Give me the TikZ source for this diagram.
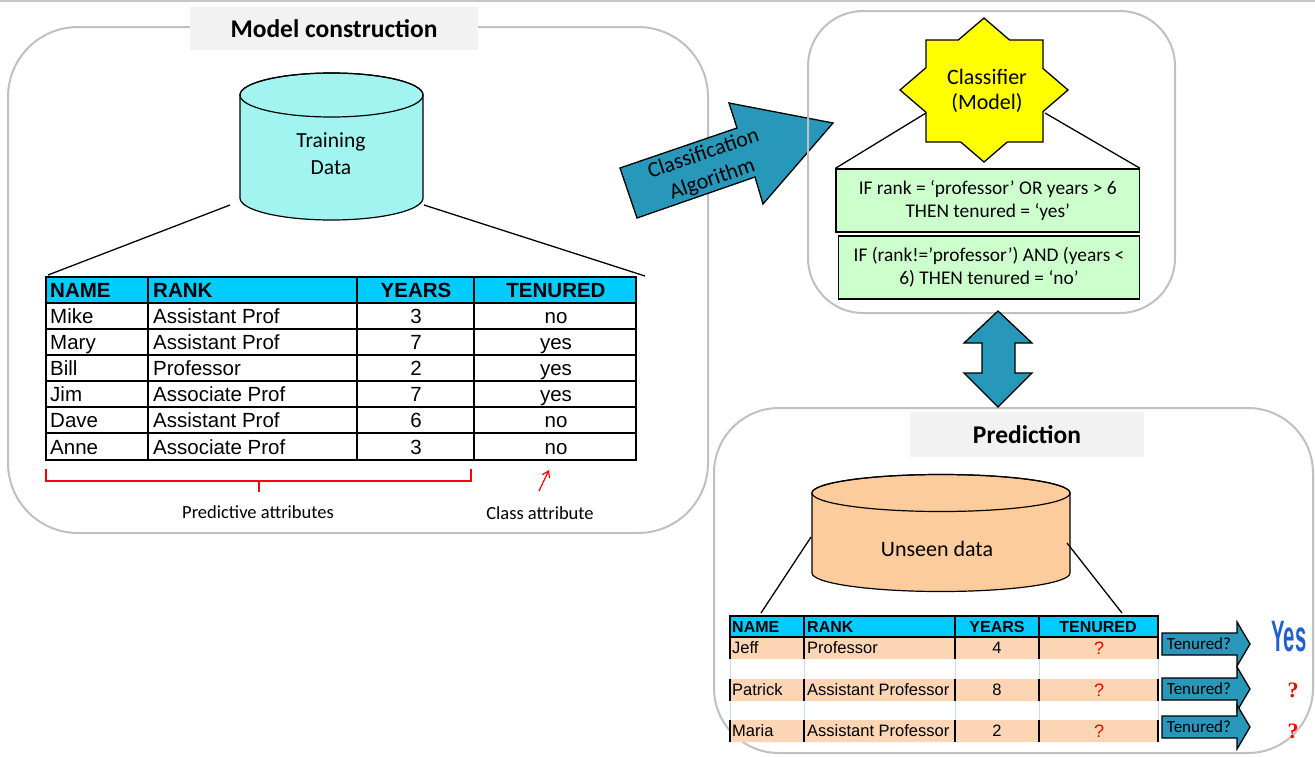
\documentclass[tikz,border=0pt]{standalone}
\usepackage{fontspec}
\usepackage{graphicx}
\setmainfont{Carlito}
\newfontfamily\tabfont{Liberation Sans}
\newfontfamily\qfont{Liberation Serif}
\usetikzlibrary{arrows.meta,positioning,calc}
\definecolor{Frame}{HTML}{C0C0C0}
\definecolor{TitleBg}{HTML}{F2F2F2}
\definecolor{Head}{HTML}{00CCFF}
\definecolor{Aqua}{HTML}{A2F4F0}
\definecolor{Peach}{HTML}{FCD5B4}
\definecolor{Apricot}{HTML}{FDCC9C}
\definecolor{Steel}{HTML}{2797BA}
\definecolor{Mint}{HTML}{CCFFCC}
\definecolor{Sun}{HTML}{FFFF00}
\definecolor{YesBlue}{HTML}{1F5FD0}
\definecolor{GridLight}{HTML}{D0D8E8}
% drum: centre x, top-ellipse y, x radius, body height, y radius, fill
\newcommand{\drum}[6]{%
  \filldraw[fill=#6, draw=black, line width=1.2]
    (#1-#3,#2) -- ++(0,#4) arc[start angle=180, end angle=0, x radius=#3, y radius=#5]
    -- ++(0,-#4) arc[start angle=0, end angle=-180, x radius=#3, y radius=#5] -- cycle;
  \draw[line width=1.2] (#1,#2) ellipse[x radius=#3, y radius=#5];
}
% ask arrow: centre y
\newcommand{\askarrow}[1]{%
  \filldraw[arrowfill] (1162,#1-11) -- (1237,#1-11) -- (1237,#1-22) -- (1250,#1)
    -- (1237,#1+22) -- (1237,#1+11) -- (1162,#1+11) -- cycle;
}

\begin{document}
\begin{tikzpicture}[x=1pt, y=-1pt,
  every node/.style={inner sep=0pt, font=\fontsize{19}{24}\selectfont},
  panel/.style={draw=Frame, line width=2, rounded corners=70},
  tbox/.style={fill=TitleBg, font=\bfseries\fontsize{25.5}{28}\selectfont},
  rbox/.style={draw, line width=1.3, fill=Mint, align=center, font=\fontsize{19.4}{23}\selectfont},
  cell/.style={font=\tabfont\fontsize{20.5}{22}\selectfont, text height=17, text depth=2},
  hcell/.style={font=\tabfont\bfseries\fontsize{20.5}{22}\selectfont, text height=17, text depth=2},
  scell/.style={font=\tabfont\fontsize{16.5}{20}\selectfont, text height=13.5, text depth=2},
  shcell/.style={font=\tabfont\bfseries\fontsize{16}{18}\selectfont, text height=13.5, text depth=2},
  qmark/.style={font=\tabfont\fontsize{18}{20}\selectfont, text=red},
  note/.style={font=\fontsize{18.5}{22}\selectfont},
  arrowfill/.style={fill=Steel, draw=black, line width=1.3, line join=miter},
  link/.style={line width=1.3},
]
\useasboundingbox (0,0) rectangle (1315,756);
\draw[Frame!90!white, line width=2] (0,1) -- (1315,1);

%% ---- model construction ----
\draw[panel] (8,27) rectangle (708,533);
\node[tbox, minimum width=288, minimum height=43] (mc) at (334,28.5) {Model construction};
\drum{331.5}{95}{91.5}{103}{22}{Aqua}
\node[align=center, font=\fontsize{21.5}{27}\selectfont] (train) at (331,154) {Training\\Data};
\coordinate (trL) at (230,205);
\coordinate (trR) at (424,205);
\coordinate (tbL) at (48,275);
\coordinate (tbR) at (645,276);
\draw[link] (trL) -- (tbL);
\draw[link] (trR) -- (tbR);

\fill[Head] (46,277) rectangle (636,303);
\draw[line width=2.4] (46,277) rectangle (636,460)
  (46,303) -- (636,303) (46,329) -- (636,329) (46,355) -- (636,355)
  (46,381) -- (636,381) (46,407) -- (636,407) (46,433) -- (636,433)
  (148,277) -- (148,460) (357,277) -- (357,460) (474,277) -- (474,460);
\node[hcell, anchor=west] (hn) at (50,290) {NAME};
\node[hcell, anchor=west] (hr) at (153,290) {RANK};
\node[hcell] (hy) at (416,290) {YEARS};
\node[hcell] (ht) at (556,290) {TENURED};
\node[cell, anchor=west] (n1) at (50,316) {Mike};  \node[cell, anchor=west] (r1) at (153,316) {Assistant Prof};  \node[cell] (y1) at (416,316) {3}; \node[cell] (t1) at (556,316) {no};
\node[cell, anchor=west] (n2) at (50,342) {Mary};  \node[cell, anchor=west] (r2) at (153,342) {Assistant Prof};  \node[cell] (y2) at (416,342) {7}; \node[cell] (t2) at (556,342) {yes};
\node[cell, anchor=west] (n3) at (50,368) {Bill};  \node[cell, anchor=west] (r3) at (153,368) {Professor};       \node[cell] (y3) at (416,368) {2}; \node[cell] (t3) at (556,368) {yes};
\node[cell, anchor=west] (n4) at (50,394) {Jim};   \node[cell, anchor=west] (r4) at (153,394) {Associate Prof};  \node[cell] (y4) at (416,394) {7}; \node[cell] (t4) at (556,394) {yes};
\node[cell, anchor=west] (n5) at (50,420) {Dave};  \node[cell, anchor=west] (r5) at (153,420) {Assistant Prof};  \node[cell] (y5) at (416,420) {6}; \node[cell] (t5) at (556,420) {no};
\node[cell, anchor=west] (n6) at (50,446.5) {Anne}; \node[cell, anchor=west] (r6) at (153,446.5) {Associate Prof}; \node[cell] (y6) at (416,446.5) {3}; \node[cell] (t6) at (556,446.5) {no};

\draw[red, line width=1.3] (46,469) -- (46,481) -- (471,481) -- (471,469) (259,481) -- (259,492);
\node[note] (pred) at (258,512) {Predictive attributes};
\node[note] (cls) at (540,513) {Class attribute};
\coordinate (ca0) at (539,491);
\coordinate (ca1) at (549,470);
\draw[red, line width=1.2, -{Straight Barb[length=6pt,width=8pt]}] (ca0) -- (ca1);

%% ---- classification algorithm ----
\filldraw[arrowfill] (620,168) -- (737,128) -- (729,103) -- (833,123) -- (763,204) -- (755,177) -- (637,218) -- cycle;
\node[rotate=19, align=center, font=\fontsize{22}{27}\selectfont] (algo) at (708,167) {Classification\\Algorithm};

%% ---- classifier ----
\draw[panel, rounded corners=55] (808,11) rectangle (1175,313);
\filldraw[fill=Sun, draw=black, line width=1.3]
  (984,18) -- (1009.5,40) -- (1043,40) -- (1043,68.5) -- (1068,90) -- (1043,111.5) -- (1043,142)
  -- (1007.3,142) -- (984,162) -- (960.7,142) -- (926,142) -- (926,112.3) -- (900,90)
  -- (926,67.7) -- (926,40) -- (958.3,40) -- cycle;
\node[align=center, font=\fontsize{22}{25}\selectfont] (clf) at (987,91) {Classifier\\(Model)};
\node[rbox, minimum width=303.5, minimum height=63] (rule1) at (987.75,200.5)
  {IF rank = ‘professor’ OR years > 6\\THEN tenured = ‘yes’};
\node[rbox, minimum width=301, minimum height=63] (rule2) at (989,267.5)
  {IF (rank!=’professor’) AND (years <\\6) THEN tenured = ‘no’};
\coordinate (stL) at (926,113);
\coordinate (stR) at (1045,113);
\draw[link] (stL) -- (rule1.north west);
\draw[link] (stR) -- (rule1.north east);

%% ---- prediction ----
\draw[panel, rounded corners=65] (714,408) rectangle (1313,753);
\filldraw[arrowfill] (998,311) -- (1032,343) -- (1015,343) -- (1015,373) -- (1032,373) -- (998,407)
  -- (964,373) -- (982,373) -- (982,343) -- (964,343) -- cycle;
\node[tbox, minimum width=234, minimum height=45] (pr) at (1027,434.5) {Prediction};
\drum{941}{493}{129}{80}{18.5}{Apricot}
\node[font=\fontsize{22}{25}\selectfont] (unseen) at (937,549) {Unseen data};
\coordinate (unL) at (811,537);
\coordinate (unR) at (1067,543);
\coordinate (ptL) at (761,613);
\coordinate (ptR) at (1122,613);
\draw[link] (unL) -- (ptL);
\draw[link] (unR) -- (ptR);

\fill[Head] (730,616) rectangle (1158,637);
\fill[Peach] (730,637) rectangle (1158,659) (730,679) rectangle (1158,701) (730,720) rectangle (1158,742);
\draw[GridLight, line width=1] (730,659) -- (730,720) (804,659) -- (804,720) (955,659) -- (955,720)
  (1039,659) -- (1039,720) (1158,659) -- (1158,720);
\foreach \x in {730,804,955,1039,1158}
  \draw[line width=1.2] (\x,637) -- (\x,659) (\x,679) -- (\x,701) (\x,720) -- (\x,742);
\draw[line width=2] (730,616) rectangle (1158,637);
\draw[line width=1.5] (804,616) -- (804,637) (955,616) -- (955,637) (1039,616) -- (1039,637);
\node[shcell, anchor=west] (phn) at (732,626.5) {NAME};
\node[shcell, anchor=west] (phr) at (807,626.5) {RANK};
\node[shcell] (phy) at (997,626.5) {YEARS};
\node[shcell] (pht) at (1098,626.5) {TENURED};
\node[scell, anchor=west] (pn1) at (732,648) {Jeff};    \node[scell, anchor=west] (pr1) at (807,648) {Professor};           \node[scell] (py1) at (997,648) {4}; \node[qmark] (pt1) at (1099,648) {?};
\node[scell, anchor=west] (pn2) at (732,690) {Patrick}; \node[scell, anchor=west] (pr2) at (807,690) {Assistant Professor}; \node[scell] (py2) at (997,690) {8}; \node[qmark] (pt2) at (1099,690) {?};
\node[scell, anchor=west] (pn3) at (732,731) {Maria};   \node[scell, anchor=west] (pr3) at (807,731) {Assistant Professor}; \node[scell] (py3) at (997,731) {2}; \node[qmark] (pt3) at (1099,731) {?};

\askarrow{644}
\askarrow{689}
\askarrow{727}
\node[font=\fontsize{17}{20}\selectfont] (ask1) at (1199,644) {Tenured?};
\node[font=\fontsize{17}{20}\selectfont] (ask2) at (1199,689) {Tenured?};
\node[font=\fontsize{17}{20}\selectfont] (ask3) at (1199,727) {Tenured?};
\node[font=\tabfont\bfseries\fontsize{44}{46}\selectfont, text=YesBlue] (yes) at (1289,637) {\scalebox{0.46}[1]{Yes}};
\node[font=\qfont\bfseries\fontsize{22}{24}\selectfont, text=red] (ans2) at (1293,690) {?};
\node[font=\qfont\bfseries\fontsize{22}{24}\selectfont, text=red] (ans3) at (1293,731) {?};
\end{tikzpicture}
\end{document}
